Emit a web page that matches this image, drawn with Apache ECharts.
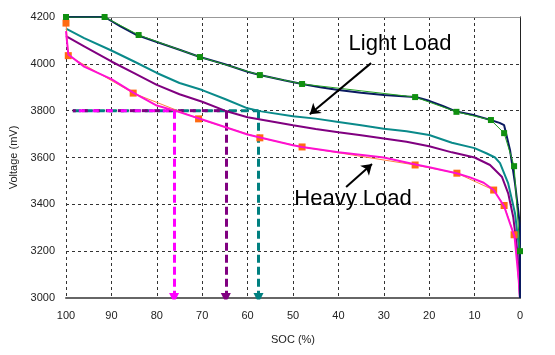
<!DOCTYPE html>
<html><head><meta charset="utf-8">
<script src="https://cdn.jsdelivr.net/npm/echarts@6/dist/echarts.min.js"></script>
<style>html,body{margin:0;padding:0;background:#fff}#c{width:555px;height:355px}</style>
</head><body><div id="c"></div>
<script>
// ---- data ----
const xTicks = [100, 90, 80, 70, 60, 50, 40, 30, 20, 10, 0];
const yTicks = [3000, 3200, 3400, 3600, 3800, 4000, 4200];

const socLight = [100, 91.5, 88, 84.4, 80, 75, 70.5, 65, 60, 57.3, 52, 48, 44, 40, 35, 30, 25, 23, 20, 17, 14, 10, 6.5, 4.5, 3.5, 2.2, 1.1, 0.4, 0, 0];
const vLight   = [4200, 4200, 4160, 4123, 4093, 4060, 4029, 3998, 3966, 3952, 3930, 3914, 3900, 3888, 3877, 3867, 3860, 3858, 3842, 3820, 3796, 3780, 3760, 3748, 3738, 3632, 3490, 3375, 3304, 3000];

const socLightModel = [100, 91.5, 84, 70.5, 57.3, 48, 23.1, 14, 6.4, 3.5, 1.3, 0];
const vLightModel   = [4200, 4200, 4123, 4029, 3952, 3914, 3858, 3795, 3760, 3704, 3563, 3200];

const socTeal = [100, 96, 90, 85, 80, 75, 70, 65, 60, 57, 50, 45, 40, 35, 30, 25, 20, 15, 10, 7.3, 5.5, 4.4, 2.6, 1.1, 0.15, 0];
const vTeal   = [4150, 4110, 4057, 4010, 3961, 3918, 3888, 3850, 3810, 3797, 3776, 3766, 3752, 3738, 3723, 3712, 3696, 3663, 3640, 3617, 3600, 3576, 3489, 3362, 3204, 3000];

const socPurple = [100, 96, 90, 85, 80, 75, 70, 65, 60, 55, 50, 45, 40, 35, 30, 25, 20, 15, 10, 6.6, 4, 2.6, 1.5, 0.6, 0];
const vPurple   = [4118, 4075, 4010, 3960, 3910, 3870, 3838, 3800, 3772, 3755, 3738, 3722, 3708, 3695, 3681, 3667, 3648, 3622, 3600, 3568, 3518, 3447, 3347, 3204, 3000];

const socHeavy = [100, 99.5, 96, 90, 85, 80, 76, 70, 65, 60, 57, 50, 48, 40, 30, 23, 20, 14, 11, 8, 5.8, 3.5, 2.2, 1.2, 0.7, 0.3, 0];
const vHeavy   = [4140, 4040, 3988, 3935, 3875, 3822, 3800, 3762, 3730, 3698, 3684, 3652, 3645, 3622, 3600, 3570, 3558, 3533, 3515, 3492, 3461, 3392, 3318, 3262, 3162, 3080, 3000];

const socHeavyModel = [100, 99.5, 85.2, 70.8, 57.3, 48, 23.1, 13.9, 5.8, 3.5, 1.3];
const vHeavyModel   = [4174, 4035, 3875, 3765, 3684, 3645, 3568, 3533, 3461, 3395, 3270];

const cutoffV = 3800;
const cutoffStartSoc = 98.5;
const cutoffSocHeavy = 76.2;
const cutoffSocPurple = 64.8;
const cutoffSocTeal = 57.6;

const lightArrow = [[32.8, 4003], [46.3, 3785]];
const heavyArrow = [[38.3, 3474], [32.6, 3572]];
const lightText = 'Light Load';
const heavyText = 'Heavy Load';
const xName = 'SOC (%)';
const yName = 'Voltage (mV)';

// ---- build ----
const zip = (a, b) => a.map((x, i) => [x, b[i]]);
const FONT = 'Liberation Sans, Arial, sans-serif';

function curve(name, xs, ys, color, width, z) {
  return { name, type: 'line', data: zip(xs, ys), showSymbol: false, symbol: 'none',
    lineStyle: { color, width }, z, animation: false };
}
function markers(name, xs, ys, lineColor, symColor, size, z) {
  return { name, type: 'line', data: zip(xs, ys), symbol: 'rect', symbolSize: size,
    showSymbol: true, itemStyle: { color: symColor, borderWidth: 0 },
    lineStyle: { color: lineColor, width: 1 }, z, animation: false };
}
function hDash(color, endSoc, dash, offset, z) {
  return { type: 'line', data: [[cutoffStartSoc, cutoffV], [endSoc, cutoffV]], symbol: 'none',
    lineStyle: { color, width: 3, type: dash, dashOffset: offset }, z, animation: false };
}
function vArrow(color, soc, z) {
  return { type: 'lines', coordinateSystem: 'cartesian2d', z, animation: false,
    symbol: ['none', 'triangle'], symbolSize: [11, 10],
    lineStyle: { color, width: 3, type: [8, 4], opacity: 1 },
    data: [{ coords: [[soc, cutoffV], [soc, 3000]] }] };
}
function blackArrow(coords) {
  return { type: 'lines', coordinateSystem: 'cartesian2d', z: 20, animation: false,
    symbol: ['none', 'arrow'], symbolSize: 10,
    lineStyle: { color: '#000', width: 2, opacity: 1 },
    data: [{ coords }] };
}

const axisLabel = { color: '#222', fontSize: 11, fontFamily: FONT };
const option = {
  animation: false,
  backgroundColor: '#fff',
  grid: { left: 66, right: 35, top: 17, bottom: 57, show: false },
  xAxis: [{
    type: 'value', inverse: true, min: 0, max: 100, interval: 10,
    name: xName, nameLocation: 'middle', nameGap: 36,
    nameTextStyle: { color: '#222', fontSize: 11, fontFamily: FONT },
    axisLine: { show: true, lineStyle: { color: '#666', width: 2 } },
    axisTick: { show: false },
    axisLabel: Object.assign({ margin: 12, formatter: v => xTicks.includes(v) ? String(v) : '' }, axisLabel),
    splitLine: { show: true, lineStyle: { color: '#333', type: [3, 3], width: 1 } }
  }, {
    type: 'value', inverse: true, min: 0, max: 100, position: 'top',
    axisLine: { show: true, lineStyle: { color: '#999', width: 1 } },
    axisTick: { show: false }, axisLabel: { show: false }, splitLine: { show: false }
  }],
  yAxis: [{
    type: 'value', min: 3000, max: 4200, interval: 200,
    name: yName, nameLocation: 'middle', nameGap: 43,
    nameTextStyle: { color: '#222', fontSize: 11, fontFamily: FONT },
    axisLine: { show: true, lineStyle: { color: '#999', width: 1 } },
    axisTick: { show: false },
    axisLabel: Object.assign({ margin: 11, formatter: v => yTicks.includes(v) ? String(v) : '' }, axisLabel),
    splitLine: { show: true, lineStyle: { color: '#333', type: [3, 3], width: 1 } }
  }, {
    type: 'value', min: 3000, max: 4200, position: 'right',
    axisLine: { show: true, lineStyle: { color: '#222', width: 1 } },
    axisTick: { show: false }, axisLabel: { show: false }, splitLine: { show: false }
  }],
  series: [
    hDash('#008080', cutoffSocTeal, [8, 4], 0, 3),
    hDash('#800080', cutoffSocPurple, [6, 6], 3, 4),
    hDash('#ff00ff', cutoffSocHeavy, [6, 8], 8, 5),
    vArrow('#008080', cutoffSocTeal, 3),
    vArrow('#800080', cutoffSocPurple, 4),
    vArrow('#ff00ff', cutoffSocHeavy, 5),
    curve('Teal', socTeal, vTeal, '#0a8a8a', 2, 6),
    curve('Purple', socPurple, vPurple, '#800080', 2, 7),
    markers('Heavy model', socHeavyModel, vHeavyModel, '#ff8040', '#ff6a10', 7, 8),
    curve('Heavy', socHeavy, vHeavy, '#ff10d0', 2, 9),
    curve('Light', socLight, vLight, '#0a1a60', 2, 10),
    markers('Light model', socLightModel, vLightModel, '#20a020', '#109010', 6, 11),
    blackArrow(lightArrow),
    blackArrow(heavyArrow)
  ],
  graphic: [
    { type: 'text', x: 400, y: 44, z: 30, style: { text: lightText, fill: '#000', font: '22px ' + FONT, align: 'center', verticalAlign: 'middle' } },
    { type: 'text', x: 353, y: 199, z: 30, style: { text: heavyText, fill: '#000', font: '22px ' + FONT, align: 'center', verticalAlign: 'middle' } }
  ]
};
const chart = echarts.init(document.getElementById('c'), null, { renderer: 'canvas' });
chart.setOption(option);
</script></body></html>
